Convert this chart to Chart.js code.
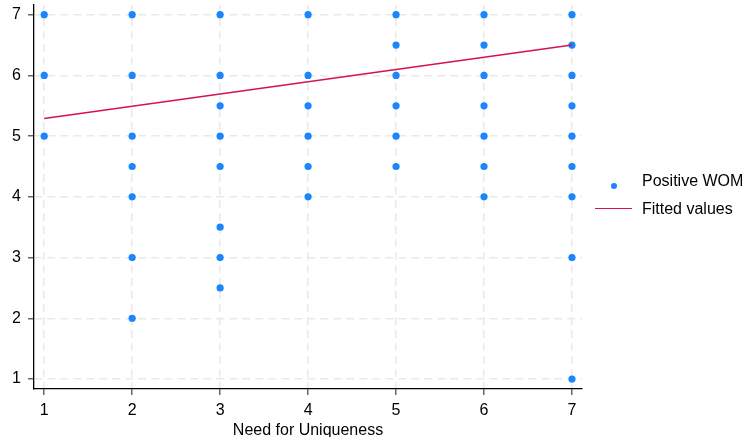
<!DOCTYPE html>
<html>
<head>
<meta charset="utf-8">
<script src="https://cdn.jsdelivr.net/npm/chart.js@4"></script>
<style>
  html, body { margin: 0; padding: 0; background: #fff; }
  #wrap { position: relative; width: 745px; height: 437px; }
  canvas { position: absolute; left: 0; top: 0; }
  .lg { position: absolute; font-family: "Liberation Sans", Arial, sans-serif; font-size: 16px; color: #000; line-height: 16px; white-space: nowrap; }
</style>
</head>
<body>
<div id="wrap">
  <canvas id="c" width="745" height="437"></canvas>
  <div id="legend"></div>
</div>
<script>
// ---- data ----
const xTicks = [1, 2, 3, 4, 5, 6, 7];
const yTicks = [1, 2, 3, 4, 5, 6, 7];
const xTitle = "Need for Uniqueness";
const seriesNames = ["Positive WOM", "Fitted values"];

// scatter points: Need for Uniqueness (x) vs Positive WOM (y)
const pointX = [1,1,1,
  2,2,2,2,2,2,2,
  3,3,3,3,3,3,3,3,
  4,4,4,4,4,4,
  5,5,5,5,5,5,
  6,6,6,6,6,6,6,
  7,7,7,7,7,7,7,7,7];
const pointY = [7,6,5,
  7,6,5,4.5,4,3,2,
  7,6,5.5,5,4.5,3.5,3,2.5,
  7,6,5.5,5,4.5,4,
  7,6.5,6,5.5,5,4.5,
  7,6.5,6,5.5,5,4.5,4,
  7,6.5,6,5.5,5,4.5,4,3,1];

// fitted line end points
const fitX = [1, 7];
const fitY = [5.29, 6.50];

// ---- styles ----
const blue = "#1a85ff";
const red = "#d41159";
const FONT = "'Liberation Sans', Arial, Helvetica, sans-serif";

const scatterData = pointX.map((x, i) => ({ x: x, y: pointY[i] }));
const fitData = fitX.map((x, i) => ({ x: x, y: fitY[i] }));

const axisCommon = {
  type: "linear",
  border: { display: true, color: "#000", width: 1.3, dash: [8, 5] },
  grid: {
    color: "#e9e9e9", lineWidth: 1.5, tickLength: 6, tickColor: "#666", tickWidth: 1.5,
    tickBorderDash: [], drawTicks: true
  },
  ticks: { color: "#000", font: { family: FONT, size: 16 } }
};

new Chart(document.getElementById("c"), {
  type: "scatter",
  data: {
    datasets: [
      {
        label: seriesNames[0], data: scatterData,
        backgroundColor: blue, borderColor: blue, pointRadius: 3.6, pointBorderWidth: 0,
        pointHoverRadius: 3.6, order: 2
      },
      {
        label: seriesNames[1], data: fitData, type: "line", showLine: true,
        borderColor: red, backgroundColor: red, borderWidth: 1.5, pointRadius: 0, fill: false, order: 1
      }
    ]
  },
  options: {
    responsive: false, animation: false, devicePixelRatio: 1,
    layout: { padding: { left: 0, right: 163, top: 5, bottom: -2 } },
    plugins: { legend: { display: false }, tooltip: { enabled: false } },
    scales: {
      x: Object.assign({}, axisCommon, {
        position: "bottom", min: 0.884, max: 7.114,
        afterBuildTicks: s => { s.ticks = xTicks.map(v => ({ value: v })); },
        afterFit: s => { s.height = 50; s.paddingLeft = 0; s.paddingRight = 0; },
        ticks: Object.assign({}, axisCommon.ticks, { padding: 6, maxRotation: 0 }),
        title: { display: true, text: xTitle, color: "#000", font: { family: FONT, size: 16, lineHeight: 1.0 }, padding: { top: 0, bottom: 0 } }
      }),
      y: Object.assign({}, axisCommon, {
        position: "left", min: 0.835, max: 7.16,
        afterBuildTicks: s => { s.ticks = yTicks.map(v => ({ value: v })); },
        afterFit: s => { s.width = 34; s.paddingTop = 0; s.paddingBottom = 0; },
        ticks: Object.assign({}, axisCommon.ticks, { padding: 7 })
      })
    }
  }
});

// ---- legend (HTML) ----
const lg = document.getElementById("legend");
lg.innerHTML =
  '<div style="position:absolute;left:610.5px;top:182.5px;width:6.5px;height:6.5px;border-radius:50%;background:' + blue + '"></div>' +
  '<div class="lg" style="left:642px;top:173px">' + seriesNames[0] + '</div>' +
  '<div style="position:absolute;left:595px;top:207.5px;width:37px;height:1.5px;background:' + red + '"></div>' +
  '<div class="lg" style="left:642px;top:200.5px">' + seriesNames[1] + '</div>';
</script>
</body>
</html>
